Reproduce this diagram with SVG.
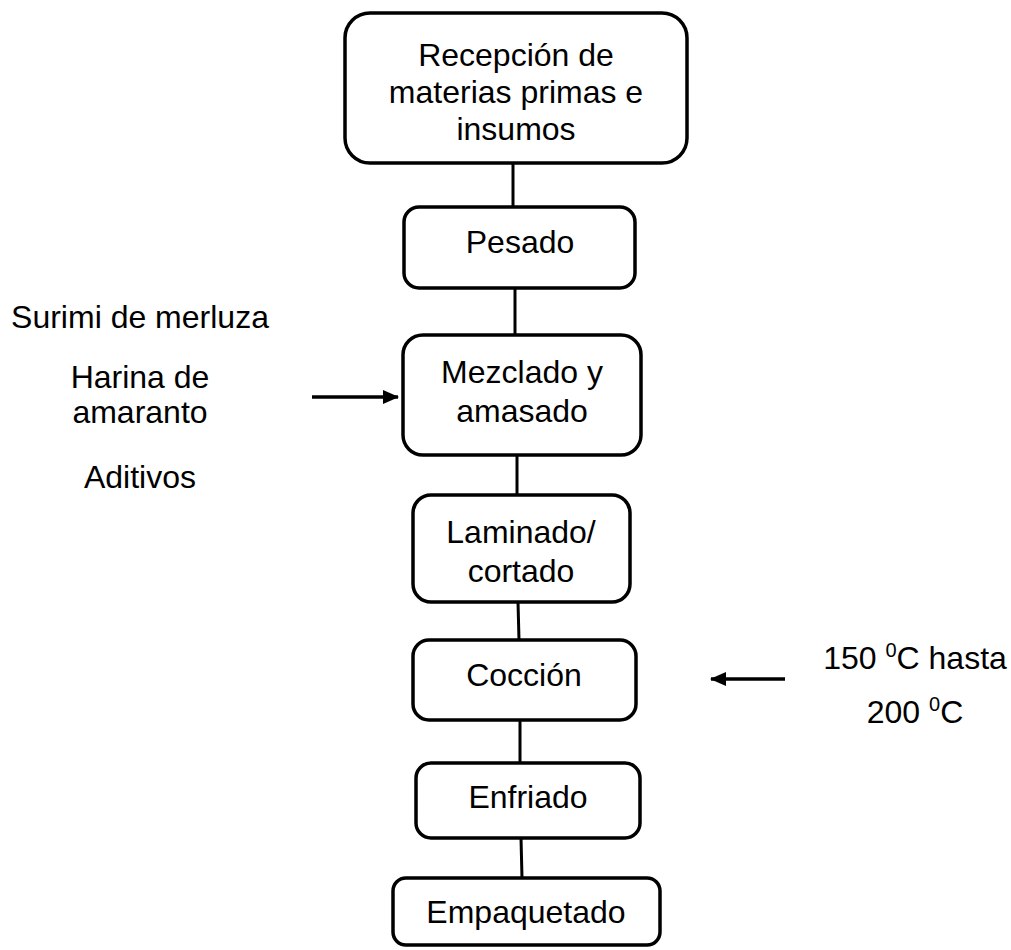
<svg xmlns="http://www.w3.org/2000/svg" width="1011" height="950" viewBox="0 0 1011 950">
<style>
.box{fill:#fff;stroke:#000;stroke-width:3.5}
.t{font-family:"Liberation Sans",Arial,sans-serif;font-size:32px;fill:#000;text-anchor:middle}
.c{stroke:#000;stroke-width:3;fill:none}
.a{stroke:#000;stroke-width:3.5;fill:none}
.sup{font-size:20px}
</style>
<defs>
<marker id="ah" markerWidth="16" markerHeight="14" refX="15" refY="7" orient="auto" markerUnits="userSpaceOnUse">
<path d="M0,0 L16,7 L0,14 Z" fill="#000"/>
</marker>
</defs>
<rect width="1011" height="950" fill="#fff"/>
<g id="connectors">
<line class="c" x1="513" y1="163" x2="513" y2="207"/>
<line class="c" x1="515" y1="288" x2="515" y2="335"/>
<line class="c" x1="517" y1="455" x2="517" y2="495"/>
<line class="c" x1="518" y1="602" x2="519" y2="640"/>
<line class="c" x1="520" y1="720" x2="520" y2="763"/>
<line class="c" x1="521" y1="838" x2="522" y2="878"/>
<line class="a" x1="312" y1="397" x2="398" y2="397" marker-end="url(#ah)"/>
<line class="a" x1="785" y1="679" x2="711" y2="679" marker-end="url(#ah)"/>
</g>
<g id="n1">
<rect class="box" x="345" y="13" width="342" height="150" rx="25"/>
<text class="t" x="516" y="66">Recepción de</text>
<text class="t" x="516" y="103">materias primas e</text>
<text class="t" x="516" y="140">insumos</text>
</g>
<g id="n2">
<rect class="box" x="404" y="207" width="231" height="81" rx="15"/>
<text class="t" x="520" y="253">Pesado</text>
</g>
<g id="n3">
<rect class="box" x="403" y="335" width="238" height="120" rx="20"/>
<text class="t" x="522" y="383">Mezclado y</text>
<text class="t" x="522" y="422">amasado</text>
</g>
<g id="n4">
<rect class="box" x="413" y="495" width="217" height="107" rx="18"/>
<text class="t" x="521" y="543">Laminado/</text>
<text class="t" x="521" y="582">cortado</text>
</g>
<g id="n5">
<rect class="box" x="413" y="640" width="223" height="80" rx="16"/>
<text class="t" x="524" y="686">Cocción</text>
</g>
<g id="n6">
<rect class="box" x="416" y="763" width="224" height="75" rx="15"/>
<text class="t" x="528" y="808">Enfriado</text>
</g>
<g id="n7">
<rect class="box" x="393" y="878" width="267" height="67" rx="13"/>
<text class="t" x="526" y="923">Empaquetado</text>
</g>
<g id="inputs">
<text class="t" x="140" y="328">Surimi de merluza</text>
<text class="t" x="140" y="388">Harina de</text>
<text class="t" x="140" y="423">amaranto</text>
<text class="t" x="140" y="488">Aditivos</text>
</g>
<g id="temp">
<text class="t" x="915" y="669">150 <tspan class="sup" dy="-12">0</tspan><tspan dy="12">C hasta</tspan></text>
<text class="t" x="915" y="723">200 <tspan class="sup" dy="-12">0</tspan><tspan dy="12">C</tspan></text>
</g>
</svg>
